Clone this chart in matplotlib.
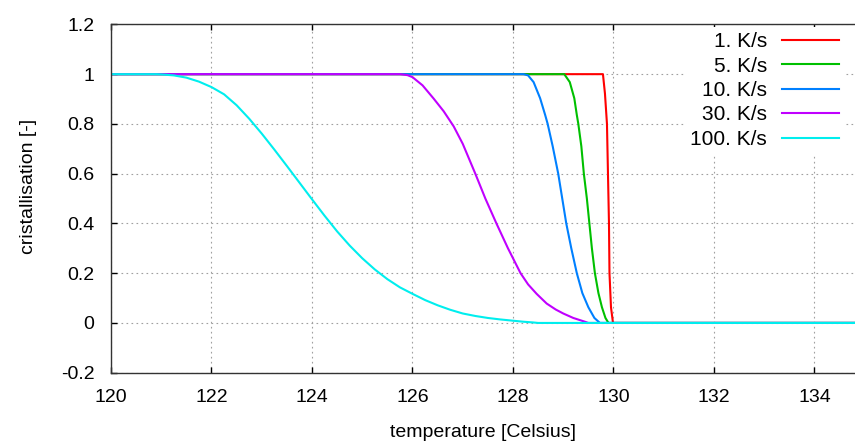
import matplotlib
matplotlib.use("Agg")
import matplotlib.pyplot as plt

# Chart data
rates = ["1. K/s", "5. K/s", "10. K/s", "30. K/s", "100. K/s"]
colors = ["#ff0000", "#00c000", "#0080ff", "#c000ff", "#00eeee"]

T_1 = [120, 129.79, 129.83, 129.87, 129.89, 129.91, 129.92, 129.95, 129.99, 135]
c_1 = [1, 1, 0.922, 0.8, 0.6, 0.4, 0.2, 0.063, 0, 0]

T_5 = [120, 129.02, 129.13, 129.22, 129.27, 129.3, 129.36, 129.41, 129.47, 129.52,
       129.57, 129.63, 129.7, 129.77, 129.84, 129.9, 135]
c_5 = [1, 1, 0.968, 0.903, 0.836, 0.8, 0.71, 0.6, 0.5, 0.4,
       0.3, 0.2, 0.12, 0.063, 0.02, 0, 0]

T_10 = [120, 128.21, 128.3, 128.41, 128.54, 128.64, 128.69, 128.79, 128.9, 128.98,
        129.06, 129.16, 129.27, 129.38, 129.5, 129.62, 129.73, 135]
c_10 = [1, 1, 0.995, 0.968, 0.903, 0.836, 0.8, 0.71, 0.6, 0.5,
        0.4, 0.3, 0.2, 0.12, 0.063, 0.02, 0, 0]

T_30 = [120, 125.75, 125.9, 126.0, 126.2, 126.42, 126.62, 126.82, 127.0, 127.25,
        127.45, 127.67, 127.9, 128.15, 128.3, 128.47, 128.67, 128.85, 129.0, 129.2,
        129.43, 129.5, 135]
c_30 = [1, 1, 0.996, 0.988, 0.955, 0.902, 0.851, 0.79, 0.72, 0.6,
        0.5, 0.4, 0.3, 0.2, 0.155, 0.117, 0.078, 0.054, 0.038, 0.02,
        0.005, 0, 0]

T_100 = [120, 120.9, 121, 121.25, 121.5, 121.75, 122, 122.25, 122.5, 122.75,
         123, 123.25, 123.5, 123.75, 124, 124.25, 124.5, 124.75, 125, 125.25,
         125.5, 125.75, 126, 126.25, 126.5, 126.75, 127, 127.25, 127.5, 127.75,
         128, 128.2, 128.4, 128.5, 135]
c_100 = [1, 1, 0.999, 0.995, 0.986, 0.97, 0.948, 0.919, 0.875, 0.821,
         0.761, 0.697, 0.631, 0.564, 0.497, 0.431, 0.368, 0.311, 0.26, 0.215,
         0.176, 0.143, 0.117, 0.092, 0.071, 0.053, 0.038, 0.028, 0.02, 0.014,
         0.009, 0.005, 0.002, 0, 0]

xticks = [120, 122, 124, 126, 128, 130, 132, 134]
yticks = [-0.2, 0, 0.2, 0.4, 0.6, 0.8, 1, 1.2]
ytick_labels = ["-0.2", "0", "0.2", "0.4", "0.6", "0.8", "1", "1.2"]

#-------------------------
#   FIGURE OPTIONS
#-------------------------
plt.rcParams['font.family'] = ['Liberation Sans', 'DejaVu Sans']
plt.rcParams['font.size'] = 14

fig = plt.figure(figsize=(8.55, 4.42), dpi=100)
ax = fig.add_axes([111/855., 1-372.7/442., 1-111/855., (372.7-24.4)/442.])

series = [(T_1, c_1), (T_5, c_5), (T_10, c_10), (T_30, c_30), (T_100, c_100)]
for (T, c), lab, col in zip(series, rates, colors):
    ax.plot(T, c, color=col, lw=1.5, label=lab)

ax.set_xlim(120, 134.806)
ax.set_ylim(-0.2, 1.2)
ax.set_xticks(xticks)
ax.set_yticks(yticks)
ax.set_yticklabels(ytick_labels)

ax.grid(True, color="#a0a0a0", lw=0.8, linestyle=(0, (1.5, 3)))
ax.tick_params(direction="in", length=4, width=1, top=True, right=False, pad=12,
               labelsize=14, colors="black")
ax.spines['right'].set_visible(False)
for s in ['left', 'top', 'bottom']:
    ax.spines[s].set_linewidth(1)
    ax.spines[s].set_color("#333333")

ax.set_xlabel("temperature [Celsius]", fontsize=14)
ax.set_ylabel("cristallisation [-]", fontsize=14)
ax.xaxis.set_label_coords(0.5, -0.147)
ax.yaxis.set_label_coords(-0.099, 0.534)

leg = ax.legend(loc="upper right", bbox_to_anchor=(844/855., 1-27/442.),
                bbox_transform=fig.transFigure, markerfirst=False, frameon=True,
                fancybox=False, edgecolor="none", facecolor="white", framealpha=1,
                fontsize=15, handlelength=2.75, handletextpad=0.7,
                labelspacing=0.26, borderpad=0.25, borderaxespad=0)

# right-align legend rows like gnuplot
for col in leg._legend_handle_box.get_children():
    col.align = "right"

fig.savefig("out.png", dpi=100)
